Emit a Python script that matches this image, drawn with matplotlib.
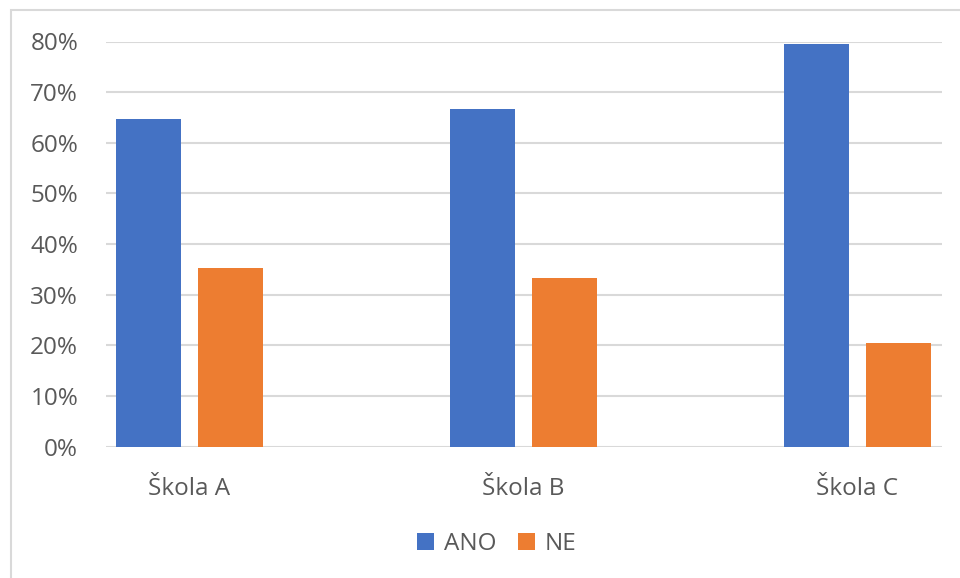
import matplotlib
matplotlib.use("Agg")
import matplotlib.pyplot as plt
from matplotlib.patches import Rectangle
from matplotlib.ticker import FuncFormatter
import numpy as np

categories = ["Škola A", "Škola B", "Škola C"]
series_names = ["ANO", "NE"]
ano = [0.647, 0.667, 0.795]
ne = [0.353, 0.333, 0.205]
colors = ["#4472C4", "#ED7D31"]

plt.rcParams['font.family'] = ['Open Sans', 'DejaVu Sans']

fig = plt.figure(figsize=(9.6, 5.78), dpi=100)
W, H = 960, 578
# chart border
fig.patches.append(Rectangle((10.5 / W, -0.1), 2, (H - 10.5) / H + 0.1, transform=fig.transFigure,
                             fill=False, edgecolor="#d9d9d9", linewidth=1.5))

ax = fig.add_axes([106 / W, 1 - 446.7 / H, (942 - 106) / W, (446.7 - 41.5) / H])
x = np.arange(len(categories))
bw = 0.195
off = 0.123
ax.bar(x - off, ano, bw, color=colors[0], label=series_names[0], zorder=3)
ax.bar(x + off, ne, bw, color=colors[1], label=series_names[1], zorder=3)

ax.set_xlim(-0.25, 2.253)
ax.set_ylim(0, 0.8)
ax.set_yticks(np.arange(0, 0.81, 0.1))
ax.yaxis.set_major_formatter(FuncFormatter(lambda v, p: f"{v*100:.0f}%"))
ax.grid(axis="y", color="#d9d9d9", linewidth=1.5, zorder=0)
for s in ax.spines.values():
    s.set_visible(False)
ax.tick_params(axis="y", length=0, pad=20, labelsize=17.5, labelcolor="#595959")
ax.set_xticks(x)
ax.set_xticklabels(categories)
ax.tick_params(axis="x", length=0, pad=22, labelsize=17.5, labelcolor="#595959")

leg = fig.legend(loc="center", bbox_to_anchor=(497 / W, 1 - 544 / H), ncol=2, frameon=False,
                 fontsize=17.5, handlelength=0.7, handleheight=0.7, handletextpad=0.4,
                 columnspacing=0.9)
for t in leg.get_texts():
    t.set_color("#595959")

fig.savefig("out.png", dpi=100)
